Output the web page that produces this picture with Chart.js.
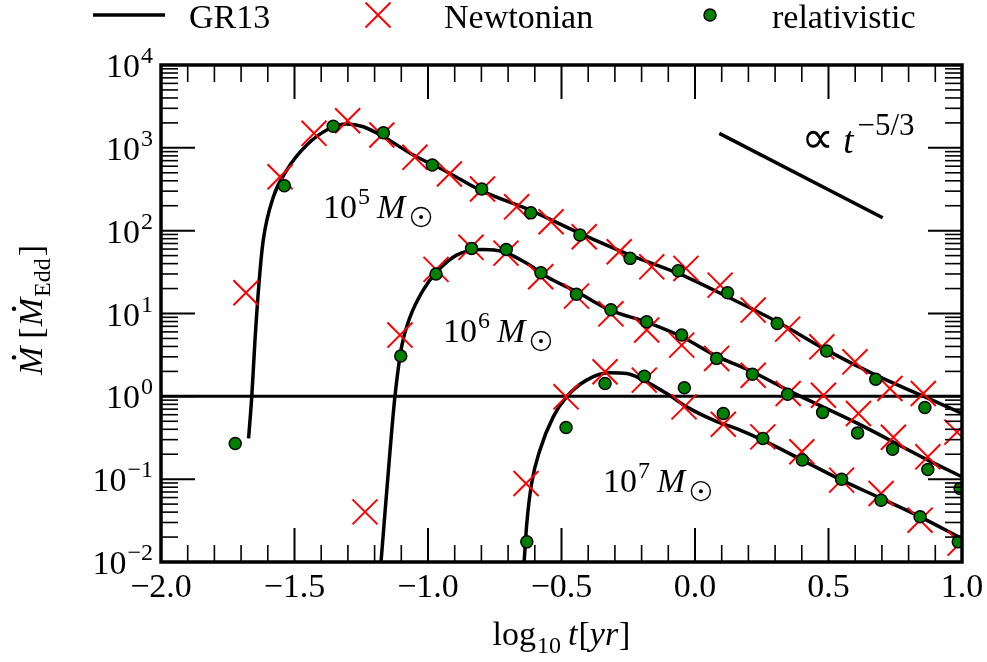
<!DOCTYPE html>
<html>
<head>
<meta charset="utf-8">
<script src="https://cdn.jsdelivr.net/npm/chart.js@4.4.1/dist/chart.umd.min.js"></script>
<style>
  html, body { margin: 0; padding: 0; background: #fff; }
</style>
</head>
<body>
<canvas id="tde" width="987" height="662"></canvas>
<script>
// values: [log10 t (yr), Mdot / Mdot_Edd]
const gr13_1e5 = [[-1.672,0.31],[-1.660,1.0],[-1.648,4.77],[-1.632,25.3],[-1.617,76.9],[-1.579,257],[-1.529,539],[-1.454,1081],[-1.367,1721],[-1.305,1938],[-1.242,1798],[-1.167,1361],[-1.055,818],[-0.930,515],[-0.805,309],[-0.618,177],[-0.431,92.7],[-0.243,50.7],[-0.063,30.5],[0.122,15.9],[0.308,7.94],[0.493,3.61],[0.677,1.80],[0.861,0.986],[1.0,0.621]];
const gr13_1e6 = [[-1.176,0.01],[-1.142,0.224],[-1.124,0.986],[-1.099,3.96],[-1.067,9.12],[-1.018,19.2],[-0.967,31.9],[-0.893,50.7],[-0.793,59.4],[-0.718,55.6],[-0.630,40.3],[-0.555,27.8],[-0.443,18.3],[-0.318,11.0],[-0.181,7.86],[-0.050,5.24],[0.081,3.06],[0.215,1.98],[0.347,1.19],[0.609,0.471],[0.872,0.170],[1.0,0.107]];
const gr13_1e7 = [[-0.640,0.01],[-0.630,0.0292],[-0.612,0.0887],[-0.581,0.224],[-0.531,0.565],[-0.481,0.986],[-0.406,1.57],[-0.318,1.92],[-0.256,1.89],[-0.194,1.57],[-0.106,1.08],[-0.031,0.746],[0.069,0.516],[0.169,0.391],[0.254,0.296],[0.402,0.170],[0.549,0.0973],[0.697,0.0585],[0.843,0.0351],[1.0,0.0192]];

const newt_1e5 = [[-1.682,17.8],[-1.554,448],[-1.427,1496],[-1.301,2125],[-1.173,1428],[-1.049,768],[-0.920,483],[-0.796,318],[-0.668,194],[-0.539,128],[-0.415,84.4],[-0.284,55.6],[-0.162,36.6],[-0.034,35.0],[0.094,22.0],[0.218,11.0],[0.347,6.48],[0.475,3.96],[0.599,2.61],[0.730,1.245],[0.855,1.08],[0.981,0.37]];
const newt_1e6 = [[-1.236,0.0403],[-1.105,5.49],[-0.970,34.1],[-0.839,62.9],[-0.708,53.6],[-0.578,27.8],[-0.444,16.2],[-0.315,9.91],[-0.181,6.31],[-0.050,4.15],[0.081,2.87],[0.218,1.80],[0.349,1.08],[0.481,1.03],[0.612,0.621],[0.743,0.321],[0.872,0.186]];
const newt_1e7 = [[-0.633,0.0887],[-0.483,0.986],[-0.337,1.98],[-0.190,1.57],[-0.041,0.746],[0.106,0.46],[0.254,0.324],[0.400,0.214],[0.549,0.0973],[0.697,0.0672],[0.843,0.0320],[0.993,0.0169]];

const rel_1e5 = [[-1.722,0.27],[-1.538,349],[-1.355,1820],[-1.167,1522],[-0.984,620],[-0.799,318],[-0.615,164],[-0.431,88.5],[-0.243,46.3],[-0.063,32.8],[0.122,17.8],[0.308,7.59],[0.493,3.52],[0.677,1.61],[0.861,0.734]];
const rel_1e6 = [[-1.102,3.06],[-0.970,29.9],[-0.837,61.1],[-0.707,59.4],[-0.577,31.0],[-0.444,17.1],[-0.315,11.1],[-0.181,7.94],[-0.050,5.49],[0.081,2.87],[0.215,1.85],[0.347,1.06],[0.478,0.64],[0.609,0.362],[0.740,0.230],[0.872,0.131],[0.993,0.0773]];
const rel_1e7 = [[-0.630,0.0175],[-0.483,0.421],[-0.337,1.43],[-0.190,1.75],[-0.040,1.27],[0.106,0.621],[0.254,0.310],[0.402,0.170],[0.549,0.100],[0.697,0.0557],[0.843,0.0351],[0.986,0.0175]];

const eddington = [[-2, 1], [1, 1]];
const slopeGuide = [[0.091, 1496], [0.703, 143]];

const xTicks = [-2, -1.5, -1, -0.5, 0, 0.5, 1];
const xTickLabels = ['\u22122.0', '\u22121.5', '\u22121.0', '\u22120.5', '0.0', '0.5', '1.0'];
const yDecades = [-2, -1, 0, 1, 2, 3, 4];
const yTickExps = ['\u22122', '\u22121', '0', '1', '2', '3', '4'];

// label anchors (left end of "10", baseline) in data units
const massLabels = [
  { exp: '5', x: -1.393, y: 142 },
  { exp: '6', x: -0.944, y: 4.52 },
  { exp: '7', x: -0.345, y: 0.0697 }
];

const SERIF = '"Liberation Serif", "DejaVu Serif", serif';
const rm = s => s + 'px ' + SERIF;
const it = s => 'italic ' + s + 'px ' + SERIF;
const FS = 34, SUB = 24;

function drawRun(ctx, parts, x, y) {
  for (const p of parts) {
    x += p.pre || 0;
    ctx.font = p.f;
    ctx.fillText(p.t, x, y + (p.dy || 0));
    const w = ctx.measureText(p.t).width;
    if (p.dot) {
      ctx.beginPath();
      ctx.arc(x + w * 0.62, y - 28, 2.2, 0, Math.PI * 2);
      ctx.fill();
    }
    x += w;
  }
  return x;
}
function runWidth(ctx, parts) {
  let w = 0;
  for (const p of parts) { ctx.font = p.f; w += (p.pre || 0) + ctx.measureText(p.t).width; }
  return w;
}
function sun(ctx, cx, cy) {
  ctx.beginPath(); ctx.lineWidth = 1.4; ctx.arc(cx, cy, 9.5, 0, Math.PI * 2); ctx.stroke();
  ctx.beginPath(); ctx.arc(cx, cy, 2, 0, Math.PI * 2); ctx.fill();
}
function seg(ctx, x1, y1, x2, y2) { ctx.beginPath(); ctx.moveTo(x1, y1); ctx.lineTo(x2, y2); ctx.stroke(); }

const frame = {
  id: 'frame',
  afterDraw(chart) {
    const { ctx, chartArea: a, scales: { x, y } } = chart;
    ctx.save();
    ctx.strokeStyle = '#000';
    ctx.fillStyle = '#000';
    ctx.lineCap = 'butt';

    // inward ticks on all four sides
    for (let i = 0; i < xTicks.length; i++) {
      const v = xTicks[i];
      ctx.lineWidth = 2;
      const px = x.getPixelForValue(v);
      seg(ctx, px, a.bottom, px, a.bottom - 34);
      seg(ctx, px, a.top, px, a.top + 34);
      if (i < xTicks.length - 1) {
        ctx.lineWidth = 1.6;
        for (let k = 1; k < 5; k++) {
          const mx = x.getPixelForValue(v + k * 0.1);
          seg(ctx, mx, a.bottom, mx, a.bottom - 17);
          seg(ctx, mx, a.top, mx, a.top + 17);
        }
      }
    }
    for (let i = 0; i < yDecades.length; i++) {
      const d = Math.pow(10, yDecades[i]);
      ctx.lineWidth = 2;
      const py = y.getPixelForValue(d);
      seg(ctx, a.left, py, a.left + 34, py);
      seg(ctx, a.right, py, a.right - 34, py);
      if (i < yDecades.length - 1) {
        ctx.lineWidth = 1.6;
        for (let m = 2; m <= 9; m++) {
          const my = y.getPixelForValue(m * d);
          seg(ctx, a.left, my, a.left + 17, my);
          seg(ctx, a.right, my, a.right - 17, my);
        }
      }
    }
    ctx.lineWidth = 3.5;
    ctx.strokeRect(a.left, a.top, a.right - a.left, a.bottom - a.top);

    // tick labels
    ctx.textBaseline = 'alphabetic';
    ctx.font = rm(FS);
    for (let i = 0; i < xTicks.length; i++) {
      const px = x.getPixelForValue(xTicks[i]);
      const w = ctx.measureText(xTickLabels[i]).width;
      ctx.fillText(xTickLabels[i], px - w / 2, a.bottom + 35);
    }
    for (let i = 0; i < yDecades.length; i++) {
      const py = y.getPixelForValue(Math.pow(10, yDecades[i]));
      const parts = [{ t: '10', f: rm(FS) }, { t: yTickExps[i], f: rm(SUB), dy: -14, pre: 1 }];
      const w = runWidth(ctx, parts);
      drawRun(ctx, parts, 153 - w, py + 12);
    }

    // axis titles
    const xt = [{ t: 'log', f: rm(FS) }, { t: '10', f: rm(SUB), dy: 8, pre: 1 }, { t: 't', f: it(FS), pre: 7 },
                { t: '[', f: rm(FS), pre: 1 }, { t: 'yr', f: it(FS) }, { t: ']', f: rm(FS), pre: 1 }];
    const xw = runWidth(ctx, xt);
    drawRun(ctx, xt, (a.left + a.right) / 2 - xw / 2, 645);

    ctx.save();
    ctx.translate(42, 310);
    ctx.rotate(-Math.PI / 2);
    const yt = [{ t: 'M', f: it(FS), dot: true }, { t: '[', f: rm(FS), pre: 8 }, { t: 'M', f: it(FS), dot: true, pre: 1 },
                { t: 'Edd', f: rm(SUB), dy: 8, pre: 1 }, { t: ']', f: rm(FS), pre: 2 }];
    const yw = runWidth(ctx, yt);
    drawRun(ctx, yt, -yw / 2, 0);
    ctx.restore();

    // mass labels
    for (const m of massLabels) {
      const lx = x.getPixelForValue(m.x), ly = y.getPixelForValue(m.y);
      drawRun(ctx, [{ t: '10', f: rm(FS) }, { t: m.exp, f: rm(SUB), dy: -14, pre: 1 }], lx, ly);
      drawRun(ctx, [{ t: 'M', f: it(FS) }], lx + 54, ly);
      sun(ctx, lx + 98, ly - 1);
    }

    // power-law annotation
    const gx = x.getPixelForValue(slopeGuide[0][0]) + 82, gy = y.getPixelForValue(slopeGuide[0][1]) + 20;
    drawRun(ctx, [{ t: '\u221D', f: '46px "DejaVu Sans", sans-serif' }, { t: 't', f: it(37), pre: 9 },
                  { t: '\u22125/3', f: rm(31), dy: -18, pre: 4 }], gx, gy);

    // legend
    ctx.lineWidth = 3.5;
    seg(ctx, 93, 15, 165, 15);
    ctx.font = rm(FS);
    ctx.fillText('GR13', 189, 28);
    ctx.strokeStyle = '#ff0000';
    ctx.lineWidth = 2;
    seg(ctx, 378 - 12.5, 15 - 12.5, 378 + 12.5, 15 + 12.5);
    seg(ctx, 378 + 12.5, 15 - 12.5, 378 - 12.5, 15 + 12.5);
    ctx.fillText('Newtonian', 444, 28);
    ctx.beginPath();
    ctx.arc(710, 15, 6, 0, Math.PI * 2);
    ctx.fillStyle = '#008000'; ctx.fill();
    ctx.strokeStyle = '#000'; ctx.lineWidth = 1.5; ctx.stroke();
    ctx.fillStyle = '#000';
    ctx.fillText('relativistic', 772, 28);
    ctx.restore();
  }
};

const curve = data => ({
  data, showLine: true, pointRadius: 0, borderColor: '#000', borderWidth: 3.5,
  cubicInterpolationMode: 'monotone', fill: false, order: 2
});
const crosses = data => ({
  data, pointStyle: 'crossRot', pointRadius: 17.7, borderColor: '#ff0000',
  borderWidth: 2, backgroundColor: '#ff0000', clip: 0, order: 1
});
const dots = data => ({
  data, pointStyle: 'circle', pointRadius: 6, borderColor: '#000',
  borderWidth: 1.5, backgroundColor: '#008000', clip: 0, order: 0
});

new Chart(document.getElementById('tde').getContext('2d'), {
  type: 'scatter',
  data: {
    datasets: [
      { data: eddington, showLine: true, pointRadius: 0, borderColor: '#000', borderWidth: 3, order: 3 },
      { data: slopeGuide, showLine: true, pointRadius: 0, borderColor: '#000', borderWidth: 3.5, order: 3 },
      curve(gr13_1e5), curve(gr13_1e6), curve(gr13_1e7),
      crosses(newt_1e5), crosses(newt_1e6), crosses(newt_1e7),
      dots(rel_1e5), dots(rel_1e6), dots(rel_1e7)
    ]
  },
  options: {
    responsive: false,
    animation: false,
    devicePixelRatio: 1,
    events: [],
    layout: { padding: { left: 161, top: 65, right: 25, bottom: 100 } },
    plugins: { legend: { display: false }, tooltip: { enabled: false } },
    scales: {
      x: { type: 'linear', min: -2, max: 1, display: false },
      y: { type: 'logarithmic', min: 0.01, max: 10000, display: false }
    }
  },
  plugins: [frame]
});
</script>
</body>
</html>
